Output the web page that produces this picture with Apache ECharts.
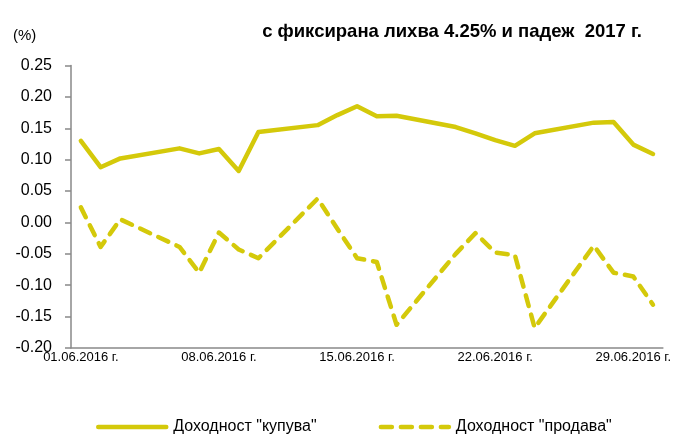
<!DOCTYPE html>
<html>
<head>
<meta charset="utf-8">
<script src="https://cdn.jsdelivr.net/npm/echarts@6/dist/echarts.min.js"></script>
<style>
  html, body { margin: 0; padding: 0; background: #fff; }
  #chart { width: 674px; height: 434px; }
</style>
</head>
<body>
<div id="chart"></div>
<script>
// all calendar days of June 2016, weekends are null
var days = [];
for (var d = 1; d <= 30; d++) {
    days.push((d < 10 ? '0' + d : '' + d) + '.06.2016 г.');
}

var buyYield = [
    0.130, 0.088, 0.102, null, null,
    0.118, 0.110, 0.117, 0.082, 0.144, null, null,
    0.155, 0.171, 0.185, 0.169, 0.170, null, null,
    0.152, 0.142, 0.131, 0.122, 0.142, null, null,
    0.159, 0.160, 0.124, 0.109
];

var sellYield = [
    0.024, -0.039, 0.005, null, null,
    -0.039, -0.080, -0.016, -0.043, -0.057, null, null,
    0.038, -0.010, -0.057, -0.063, -0.163, null, null,
    -0.050, -0.017, -0.048, -0.052, -0.168, null, null,
    -0.037, -0.080, -0.086, -0.131
];

var lineColor = '#d4c90a';
var font = "'Liberation Sans', Arial, sans-serif";

var myChart = echarts.init(document.getElementById('chart'));
var option = {
    animation: false,
    backgroundColor: '#fff',
    title: {
        text: 'с фиксирана лихва 4.25% и падеж  2017 г.',
        right: 27,
        top: 17,
        textStyle: {
            fontFamily: font,
            fontSize: 18.5,
            fontWeight: 'bold',
            color: '#000'
        }
    },
    legend: {
        top: 414,
        left: 91,
        itemGap: 62,
        itemWidth: 68,
        itemHeight: 14,
        itemStyle: { opacity: 0 },
        lineStyle: { width: 4.5 },
        textStyle: { fontFamily: font, fontSize: 16, color: '#000', padding: [0, 0, 0, 2] },
        data: ['Доходност "купува"', 'Доходност "продава"']
    },
    grid: {
        left: 71,
        right: 11,
        top: 65.5,
        bottom: 86
    },
    xAxis: {
        type: 'category',
        data: days,
        boundaryGap: true,
        axisLine: { onZero: false, lineStyle: { color: '#898989', width: 1.5 } },
        axisTick: { interval: 6, length: 5, lineStyle: { color: '#898989', width: 1.5 } },
        axisLabel: {
            interval: 6,
            margin: 3,
            fontFamily: font,
            fontSize: 13,
            color: '#000'
        }
    },
    yAxis: {
        type: 'value',
        name: '(%)',
        nameLocation: 'end',
        nameGap: 22,
        nameTextStyle: { fontFamily: font, fontSize: 15, color: '#000', align: 'left', padding: [0, 0, 0, -58] },
        min: -0.20,
        max: 0.25,
        interval: 0.05,
        splitLine: { show: false },
        axisLine: { show: true, lineStyle: { color: '#898989', width: 1.5 } },
        axisTick: { show: true, inside: false, length: 6, lineStyle: { color: '#898989', width: 1.5 } },
        axisLabel: {
            margin: 19,
            fontFamily: font,
            fontSize: 16,
            color: '#000',
            formatter: function (v) { return v.toFixed(2); }
        }
    },
    series: [
        {
            name: 'Доходност "купува"',
            type: 'line',
            data: buyYield,
            connectNulls: true,
            showSymbol: false,
            symbol: 'none',
            itemStyle: { color: lineColor },
            lineStyle: { color: lineColor, width: 4.5, cap: 'round', join: 'round' }
        },
        {
            name: 'Доходност "продава"',
            type: 'line',
            data: sellYield,
            connectNulls: true,
            showSymbol: false,
            symbol: 'none',
            itemStyle: { color: lineColor },
            lineStyle: { color: lineColor, width: 4.5, type: [11, 9], cap: 'round', join: 'round' }
        }
    ]
};
myChart.setOption(option);
</script>
</body>
</html>
